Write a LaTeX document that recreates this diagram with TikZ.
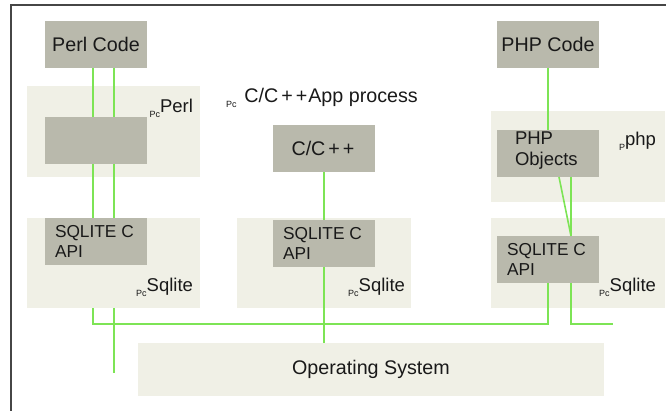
\documentclass[tikz,border=0pt]{standalone}
\usepackage{fontspec}
\setmainfont{Liberation Sans}
\definecolor{boxgrey}{RGB}{185,185,172}
\definecolor{bglight}{RGB}{240,240,230}
\definecolor{wire}{RGB}{125,228,85}
\definecolor{framec}{RGB}{70,70,70}
\definecolor{ink}{RGB}{25,25,25}
\newcommand{\subpc}[1]{\raisebox{-0.3em}{\fontsize{9}{9}\selectfont #1}}
\tikzset{
  blk/.style={inner sep=0pt, outer sep=0pt, anchor=north west, draw=none},
  greybox/.style={blk, fill=boxgrey},
  lightbox/.style={blk, fill=bglight},
  sz/.style 2 args={minimum width=#1pt, minimum height=#2pt},
  txt/.style={inner sep=0pt, outer sep=0pt, text=ink, font=\fontsize{18.5}{21}\selectfont},
  bigtxt/.style={txt, font=\fontsize{19.7}{22}\selectfont},
  captxt/.style={txt, font=\fontsize{17.3}{20.5}\selectfont},
  wireline/.style={draw=wire, line width=1.6pt},
}
\begin{document}
\begin{tikzpicture}[x=1pt,y=-1pt]
\useasboundingbox (0,0) rectangle (666,410);
\draw[framec, line width=2pt] (11,411) -- (11,5) -- (667,5);

% light backgrounds
\node[lightbox, sz={173}{91}] (perlbg) at (27,86) {};
\node[lightbox, sz={174}{91}] (phpbg) at (491,111) {};
\node[lightbox, sz={173}{90}] (sqbg1) at (27,218) {};
\node[lightbox, sz={174}{90}] (sqbg2) at (237,218) {};
\node[lightbox, sz={174}{90}] (sqbg3) at (491,218) {};
\node[lightbox, sz={466}{53}] (os) at (138,343) {};

% grey boxes
\node[greybox, sz={102}{47}] (perlcode) at (45,21) {};
\node[greybox, sz={102}{47}] (perlinner) at (45,117) {};
\node[greybox, sz={102}{47}] (cpp) at (273,125) {};
\node[greybox, sz={102}{47}] (phpcode) at (497,21) {};
\node[greybox, sz={102}{47}] (phpobj) at (497,130) {};
\node[greybox, sz={102}{47}] (sq1) at (45,218) {};
\node[greybox, sz={102}{47}] (sq2) at (273,220) {};
\node[greybox, sz={102}{47}] (sq3) at (497,236) {};

% wire coordinates
\coordinate (xa) at (93,0);
\coordinate (xb) at (114,0);
\coordinate (xc) at (324,0);
\coordinate (xd) at (548,0);
\coordinate (xe) at (559,0);
\coordinate (xf) at (571,0);
\coordinate (busy) at (0,324);
\coordinate (freeb) at (114,373);
\coordinate (freer) at (613,324);

% wires
\draw[wireline] (perlcode.south -| xa) -- (perlinner.north -| xa);
\draw[wireline] (perlcode.south -| xb) -- (perlinner.north -| xb);
\draw[wireline] (perlinner.south -| xa) -- (sq1.north -| xa);
\draw[wireline] (perlinner.south -| xb) -- (sq1.north -| xb);
\draw[wireline] (sqbg1.south -| xa) -- (busy -| xa) -- (busy -| xd) -- (sq3.south -| xd);
\draw[wireline] (sqbg1.south -| xb) -- (freeb);
\draw[wireline] (cpp.south -| xc) -- (sq2.north -| xc);
\draw[wireline] (sq2.south -| xc) -- (os.north -| xc);
\draw[wireline] (phpcode.south -| xd) -- (phpobj.north -| xd);
\draw[wireline] (phpobj.south -| xe) -- (sq3.north -| xf);
\draw[wireline] (phpobj.south -| xf) -- (sq3.north -| xf);
\draw[wireline] (sq3.south -| xf) -- (busy -| xf) -- (freer);

% texts
\node[bigtxt] (tperlcode) at (perlcode.center) {Perl Code};
\node[bigtxt] (tphpcode) at (phpcode.center) {PHP Code};
\node[bigtxt] (tcpp) at (cpp.center) {C/C\kern3pt+\kern3pt+\kern2pt};
\node[bigtxt] (tos) at (371,369) {Operating System};
\node[txt, anchor=base east] (lperl) at (193,112) {\subpc{Pc}Perl};
\node[bigtxt, anchor=base west] (lproc) at (226,102) {\subpc{Pc}\hspace{0.4em}C/C\kern3pt+\kern3pt+\kern1ptApp process};
\node[txt, anchor=base east] (lphp) at (656,145) {\subpc{P}php};
\node[txt, anchor=base east] (lsq1) at (193,291) {\subpc{Pc}Sqlite};
\node[txt, anchor=base east] (lsq2) at (405,291) {\subpc{Pc}Sqlite};
\node[txt, anchor=base east] (lsq3) at (656,291) {\subpc{Pc}Sqlite};
\node[captxt, anchor=north west, align=left] (tsq1) at (55,225) {SQLITE C\\API};
\node[captxt, anchor=north west, align=left] (tsq2) at (283,227) {SQLITE C\\API};
\node[captxt, anchor=north west, align=left] (tsq3) at (507,243) {SQLITE C\\API};
\node[txt, anchor=north west, align=left] (tphpobj) at (515,132) {PHP\\Objects};
\end{tikzpicture}
\end{document}
